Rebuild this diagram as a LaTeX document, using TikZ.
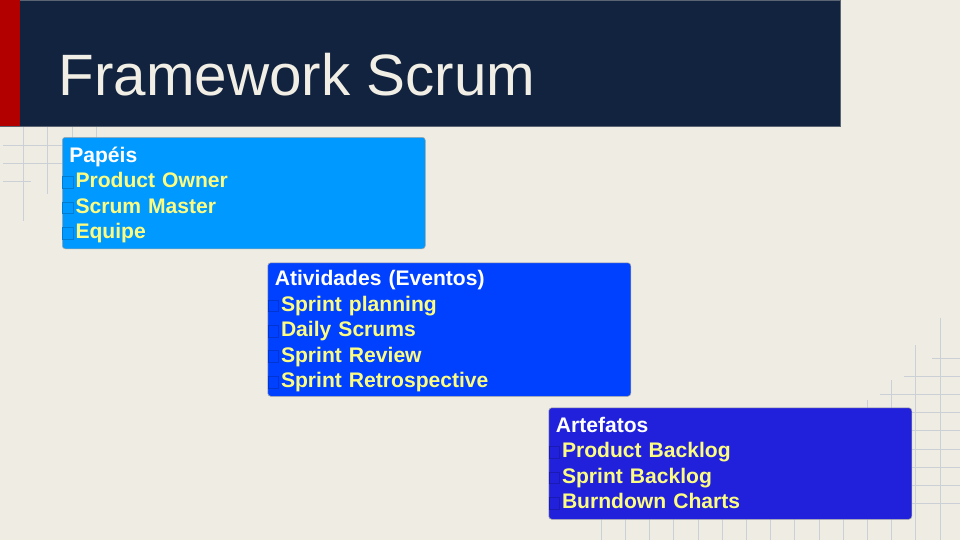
\documentclass[tikz,border=0pt]{standalone}
\usepackage{fontspec}
\setmainfont{Liberation Sans}
\usepackage{xcolor}
\usetikzlibrary{positioning}
\definecolor{bg}{RGB}{239,237,227}
\definecolor{navy}{RGB}{18,35,63}
\definecolor{barred}{RGB}{178,0,0}
\definecolor{titlec}{RGB}{241,238,229}
\definecolor{gridc}{RGB}{203,208,214}
\definecolor{roles}{RGB}{0,153,255}
\definecolor{events}{RGB}{0,64,255}
\definecolor{artif}{RGB}{33,33,220}
\definecolor{itemc}{RGB}{252,252,130}
\newdimen\pxu \pxu=0.025cm
\newcommand\tofu[1]{\textcolor{#1!82!black}{\fboxsep0pt\fboxrule0.5pt\fbox{\rule{0pt}{7.8pt}\hspace{7pt}}}\hspace{1.4pt}}
\newcommand\cardhead[1]{\textcolor{white}{\hspace*{5pt}#1}}
\tikzset{
  card/.style={draw=black!35, fill=#1, rounded corners=3\pxu, anchor=north west, inner xsep=0pt, inner ysep=0pt,
    align=left, text width=363\pxu, minimum width=363\pxu, font=\fontsize{15}{18.1}\selectfont\bfseries, text=itemc},
  gridline/.style={draw=gridc, line width=0.6pt},
}

\begin{document}
\begin{tikzpicture}[x=0.025cm, y=-0.025cm]
  \useasboundingbox (0,0) rectangle (960,540);
  \fill[bg] (0,0) rectangle (960,540);
  % background grid, top left
  \draw[gridline] (23,126) -- (23,221);
  \draw[gridline] (47.5,126) -- (47.5,194);
  \draw[gridline] (72,126) -- (72,150);
  \draw[gridline] (96.5,126) -- (96.5,150);
  \draw[gridline] (3,145) -- (70,145);
  \draw[gridline] (3,163) -- (70,163);
  \draw[gridline] (3,181.5) -- (31,181.5);
  % background grid, bottom right
  \foreach \k/\ys in {0/318,1/345,2/380,3/400,4/410,5/410,6/410,7/410,8/410,9/410,10/410,11/410,12/410,13/410,14/410}
    \draw[gridline] ({940-24.2*\k},\ys) -- ({940-24.2*\k},540);
  \foreach \j/\xs in {0/932,1/904,2/880,3/600,4/600,5/600,6/600,7/600,8/600}
    \draw[gridline] (\xs,{358+18.2*\j}) -- (960,{358+18.2*\j});
  % header
  \node[draw={rgb,255:red,90;green,100;blue,115}, line width=0.5pt, fill=navy, anchor=north west, inner sep=0pt,
    minimum width=840\pxu, minimum height=126\pxu] (header) at (0,0) {};
  \node[fill=barred, anchor=north west, inner sep=0pt, minimum width=20\pxu, minimum height=126\pxu] (bar) at (0,0) {};
  \node[anchor=base west, inner sep=0pt, text=titlec, font=\fontsize{41.5}{48}\selectfont] (title) at (58.5,95) {Framework Scrum};
  % the three cards
  \node[card=roles, text height=25\pxu, text depth=86.5\pxu] (papeis) at (62,137) {
    \cardhead{Papéis}\\
    \tofu{roles}Product Owner\\
    \tofu{roles}Scrum Master\\
    \tofu{roles}Equipe};
  \node[card=events, text height=23\pxu, text depth=110.5\pxu] (eventos) at (267.5,262.5) {
    \cardhead{Atividades (Eventos)}\\
    \tofu{events}Sprint planning\\
    \tofu{events}Daily Scrums\\
    \tofu{events}Sprint Review\\
    \tofu{events}Sprint Retrospective};
  \node[card=artif, text height=24.5\pxu, text depth=87\pxu] (artefatos) at (548.5,407.5) {
    \cardhead{Artefatos}\\
    \tofu{artif}Product Backlog\\
    \tofu{artif}Sprint Backlog\\
    \tofu{artif}Burndown Charts};
\end{tikzpicture}
\end{document}
